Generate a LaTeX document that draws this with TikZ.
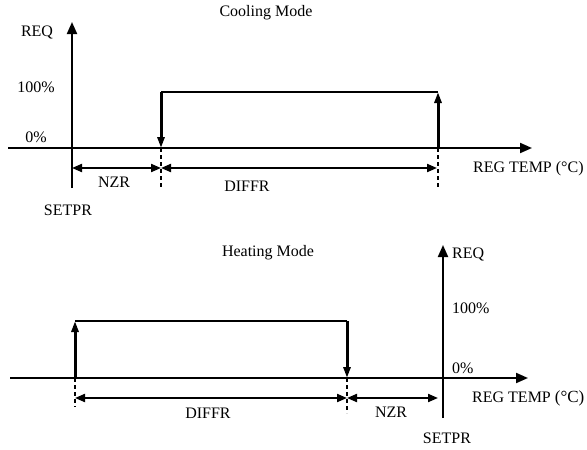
\documentclass[tikz,border=0pt]{standalone}
\usepackage{fontspec}
\setmainfont{Liberation Serif}
\usetikzlibrary{arrows.meta}
\begin{document}
\begin{tikzpicture}[x=1pt,y=-1pt,
  every node/.style={font=\fontsize{16}{18}\selectfont, inner sep=0pt},
  axis/.style={line width=2pt, -{Triangle[length=12pt,width=10pt]}},
  stepline/.style={line width=3pt, -{Triangle[length=11pt,width=7pt]}},
  topline/.style={line width=2pt},
  dimline/.style={line width=2pt, {Triangle[length=10pt,width=8pt]}-{Triangle[length=10pt,width=8pt]}},
  guide/.style={line width=2pt, dash pattern=on 4pt off 3pt}]
\useasboundingbox (0,0) rectangle (587,450);
% ---------------- Cooling mode ----------------
\node (ctitle) at (266,13) {Cooling Mode};
\coordinate (cyb) at (72,188);
\coordinate (cyt) at (72,22);
\coordinate (cxl) at (8,148);
\coordinate (cxr) at (532,148);
\draw[axis] (cxl) -- (cxr);
\draw[line width=2pt] (cyb) -- (72,148);
\draw[axis] (72,148) -- (cyt);
\node (creq) at (37,32) {REQ};
\node (c100) at (36,87) {100\%};
\node (c0) at (36,137) {0\%};
\coordinate (cat) at (161,92);
\coordinate (cab) at (161,148);
\coordinate (cbt) at (438,92);
\coordinate (cbb) at (438,148);
\draw[topline] (cat) -- (cbt);
\draw[stepline] (cat) -- (cab);
\draw[stepline] (cbb) -- (cbt);
\coordinate (cad) at (161,187);
\coordinate (cbd) at (438,187);
\draw[guide] (cab) -- (cad);
\draw[guide] (cbb) -- (cbd);
\coordinate (cd0) at (72,168);
\coordinate (cd1) at (161,168);
\coordinate (cd2) at (437,168);
\draw[dimline] (cd0) -- (cd1);
\draw[dimline] (cd1) -- (cd2);
\node (cnzr) at (114,182) {NZR};
\node (cdiffr) at (247,186) {DIFFR};
\node (csetpr) at (68,210) {SETPR};
\node[anchor=west] (creg) at (473,169) {REG TEMP (°C)};
% ---------------- Heating mode ----------------
\node (htitle) at (268,253) {Heating Mode};
\coordinate (hyb) at (443,418);
\coordinate (hyt) at (443,245);
\coordinate (hxl) at (10,378);
\coordinate (hxr) at (528,378);
\draw[axis] (hxl) -- (hxr);
\draw[line width=2pt] (hyb) -- (443,378);
\draw[axis] (443,378) -- (hyt);
\node[anchor=west] (hreq) at (452,254) {REQ};
\node[anchor=west] (h100) at (452,308) {100\%};
\node[anchor=west] (h0) at (452,368) {0\%};
\coordinate (hat) at (75,321);
\coordinate (hab) at (75,378);
\coordinate (hbt) at (347,321);
\coordinate (hbb) at (347,378);
\draw[topline] (hat) -- (hbt);
\draw[stepline] (hab) -- (hat);
\draw[stepline] (hbt) -- (hbb);
\coordinate (had) at (75,407);
\coordinate (hbd) at (347,413);
\draw[guide] (hab) -- (had);
\draw[guide] (hbb) -- (hbd);
\coordinate (hd0) at (75,398);
\coordinate (hd1) at (347,398);
\coordinate (hd2) at (438,398);
\draw[dimline] (hd0) -- (hd1);
\draw[dimline] (hd1) -- (hd2);
\node (hdiffr) at (208,413) {DIFFR};
\node (hnzr) at (391,412) {NZR};
\node (hsetpr) at (447,438) {SETPR};
\node[anchor=west] (hreg) at (472,398) {REG TEMP {\fontsize{17}{20}\selectfont(°C)}};
\end{tikzpicture}
\end{document}
